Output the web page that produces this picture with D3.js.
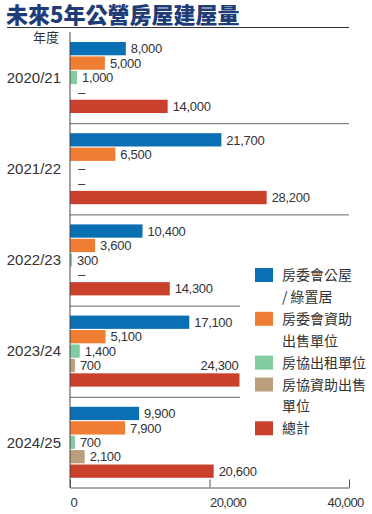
<!DOCTYPE html>
<html>
<head>
<meta charset="utf-8">
<script src="https://cdn.jsdelivr.net/npm/d3@7"></script>
<style>
  body { margin: 0; background: #fff; }
  text { font-family: "Liberation Sans", Arial, sans-serif; fill: #333; }
  .cjk { font-family: "Noto Sans CJK TC", "Noto Sans CJK SC", sans-serif; }
</style>
</head>
<body>
<svg id="chart" width="372" height="514"></svg>
<script>
let width = 372, height = 514;
let svg = d3.select("#chart");

let years = ["2020/21", "2021/22", "2022/23", "2023/24", "2024/25"];
let seriesKeys = ["ha_rent", "ha_sale", "hs_rent", "hs_sale", "total"];
let colors = ["#0b6fb4", "#ef7d32", "#82cca0", "#bb9e7d", "#c9412c"];

// values per series, in the order of years (0 = shown as "–")
let haRent = [8000, 21700, 10400, 17100, 9900];
let haSale = [5000, 6500, 3600, 5100, 7900];
let hsRent = [1000, 0, 300, 1400, 700];
let hsSale = [0, 0, 0, 700, 2100];
let total = [14000, 28200, 14300, 24300, 20600];

let legendLabels = [["房委會公屋", "/ 綠置居"], ["房委會資助", "出售單位"], ["房協出租單位"], ["房協資助出售", "單位"], ["總計"]];
let xTicks = [0, 20000, 40000];

let seriesValues = [haRent, haSale, hsRent, hsSale, total];

let x = d3.scaleLinear().domain([0, 40000]).range([70, 349]);
let yYear = d3.scaleBand().domain(years).range([32, 488]);
let yRow = d3.scaleBand().domain(seriesKeys).range([10, 81]).paddingInner(0.08);

// title
svg.append("text").attr("class", "cjk")
  .attr("x", 6).attr("y", 23)
  .style("font-size", "22px").style("font-weight", "900")
  .style("fill", "#1d3c78")
  .text("未來5年公營房屋建屋量");
svg.append("line").attr("x1", 7).attr("x2", 349).attr("y1", 27.5).attr("y2", 27.5)
  .style("stroke", "#333").style("stroke-width", 1);

svg.append("text").attr("class", "cjk")
  .attr("x", 59).attr("y", 42).attr("text-anchor", "end")
  .style("font-size", "13px").text("年度");

// separators between years
svg.selectAll(".sep")
  .data(years.slice(1))
  .enter()
  .append("line")
  .attr("class", "sep")
  .attr("x1", x(0))
  .attr("x2", (d, i) => i < 2 ? x(40000) : 240)
  .attr("y1", d => yYear(d) + 0.5)
  .attr("y2", d => yYear(d) + 0.5)
  .style("stroke", "#666").style("stroke-width", 1);

let groups = svg.selectAll(".year")
  .data(years)
  .enter()
  .append("g")
  .attr("class", "year")
  .attr("transform", d => "translate(0," + yYear(d) + ")");

groups.append("text")
  .attr("x", 61)
  .attr("y", yRow("hs_rent") + yRow.bandwidth() / 2)
  .attr("dy", "0.36em")
  .attr("text-anchor", "end")
  .style("font-size", "15px")
  .text(d => d);

years.forEach(function(year, yi){
  let g = groups.filter(d => d == year);
  seriesKeys.forEach(function(key, si){
    let v = seriesValues[si][yi];
    let cy = yRow(key) + yRow.bandwidth() / 2;
    if(v > 0){
      g.append("rect")
        .attr("x", x(0))
        .attr("y", yRow(key))
        .attr("width", x(v) - x(0))
        .attr("height", yRow.bandwidth())
        .style("fill", colors[si]);
    }
    let label = g.append("text")
      .attr("dy", "0.36em")
      .style("font-size", "13px")
      .style("letter-spacing", "-0.3px");
    if(v == 0){
      label.attr("x", x(0) + 8).attr("y", cy).text("–");
    } else if(key == "total" && year == "2023/24"){
      // no room on the right: label sits above the bar end
      label.attr("x", x(v) - 1).attr("y", yRow("hs_sale") + yRow.bandwidth() / 2)
        .attr("text-anchor", "end").text(d3.format(",")(v));
    } else {
      label.attr("x", x(v) + 5).attr("y", cy).text(d3.format(",")(v));
    }
  });
});

// axes
svg.append("line").attr("x1", x(0)).attr("x2", x(0)).attr("y1", 32).attr("y2", 488)
  .style("stroke", "#444").style("stroke-width", 1);

let axis = svg.append("g")
  .attr("transform", "translate(0,487.5)")
  .call(d3.axisBottom(x).tickValues(xTicks).tickFormat(d3.format(",")).tickSizeInner(-8).tickSizeOuter(0));
axis.select(".domain").style("stroke", "#555");
axis.selectAll(".tick line").style("stroke", "#555");
axis.selectAll(".tick text")
  .attr("y", 10)
  .attr("text-anchor", "start")
  .attr("dx", (d, i) => i == xTicks.length - 1 ? -22 : 0)
  .style("font-family", "'Liberation Sans', Arial, sans-serif")
  .style("font-size", "13px")
  .style("letter-spacing", "-0.6px")
  .style("fill", "#333");

// legend
let legend = svg.append("g").attr("class", "legend");
let lineH = 21.9;
let line = 0;
legendLabels.forEach(function(lines, i){
  let cy = 275 + line * lineH;
  legend.append("rect")
    .attr("x", 255).attr("y", cy - 7)
    .attr("width", 18).attr("height", 14)
    .style("fill", colors[i]);
  lines.forEach(function(t, j){
    legend.append("text").attr("class", "cjk")
      .attr("x", 282).attr("y", cy + j * lineH)
      .attr("dy", "0.36em")
      .style("font-size", "14px")
      .text(t);
  });
  line += lines.length;
});
</script>
</body>
</html>
